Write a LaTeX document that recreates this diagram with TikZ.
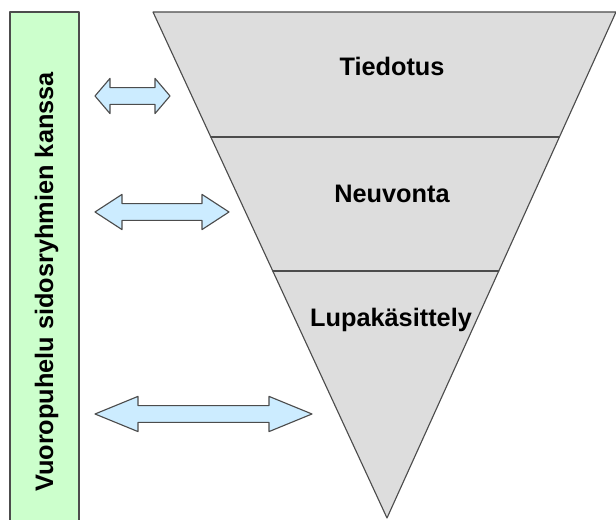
\documentclass[tikz,border=0pt]{standalone}
\usepackage{fontspec}
\setmainfont{Liberation Sans}
\usepackage{tikz}
\usetikzlibrary{calc}
\definecolor{boxgreen}{RGB}{204,255,204}
\definecolor{funnelgray}{RGB}{221,221,221}
\definecolor{arrowblue}{RGB}{204,236,255}
\tikzset{
  edge/.style={line width=0.8pt,draw=black!70},
  twoway/.style={edge,fill=arrowblue},
  label/.style={font=\fontsize{18}{20}\selectfont\bfseries,anchor=base}
}
% double arrow: left tip x, right tip x, mid y, head length
\newcommand{\twowayarrow}[4]{%
\draw[twoway] (#1,#3) -- ++(#4,0.44) -- ++(0,-0.23) -- (#2-#4,#3+0.21) -- ++(0,0.23) -- (#2,#3)
  -- ++(-#4,-0.44) -- ++(0,0.23) -- (#1+#4,#3-0.21) -- ++(0,-0.23) -- cycle;}
\begin{document}
\begin{tikzpicture}[line cap=round,line join=round,x=1.0cm,y=1.0cm]
\useasboundingbox (0,0) rectangle (15.4,13);
\fill[white] (0,0) rectangle (15.4,13);
% side box
\draw[edge,fill=boxgreen] (0.25,-0.2) rectangle (1.975,12.7);
\node[label,rotate=90] (dialog) at (1.33,5.95) {Vuoropuhelu sidosryhmien kanssa};
% funnel
\coordinate (tl) at (3.825,12.7);
\coordinate (tr) at (15.4,12.7);
\coordinate (apex) at (9.675,0.05);
\draw[edge,fill=funnelgray] (tl) -- (tr) -- (apex) -- cycle;
\coordinate (l1) at ($(tl)!0.247!(apex)$);
\coordinate (r1) at ($(tr)!0.247!(apex)$);
\coordinate (l2) at ($(tl)!0.512!(apex)$);
\coordinate (r2) at ($(tr)!0.512!(apex)$);
\draw[edge] (l1) -- (r1);
\draw[edge] (l2) -- (r2);
\node[label] (tiedotus) at (9.8,11.1) {Tiedotus};
\node[label] (neuvonta) at (9.8,7.925) {Neuvonta};
\node[label] (lupa) at (9.775,4.825) {Lupakäsittely};
% arrows
\twowayarrow{2.375}{4.25}{10.6}{0.375}
\twowayarrow{2.375}{5.725}{7.7}{0.675}
\twowayarrow{2.375}{7.8}{2.65}{1.075}
\end{tikzpicture}
\end{document}
